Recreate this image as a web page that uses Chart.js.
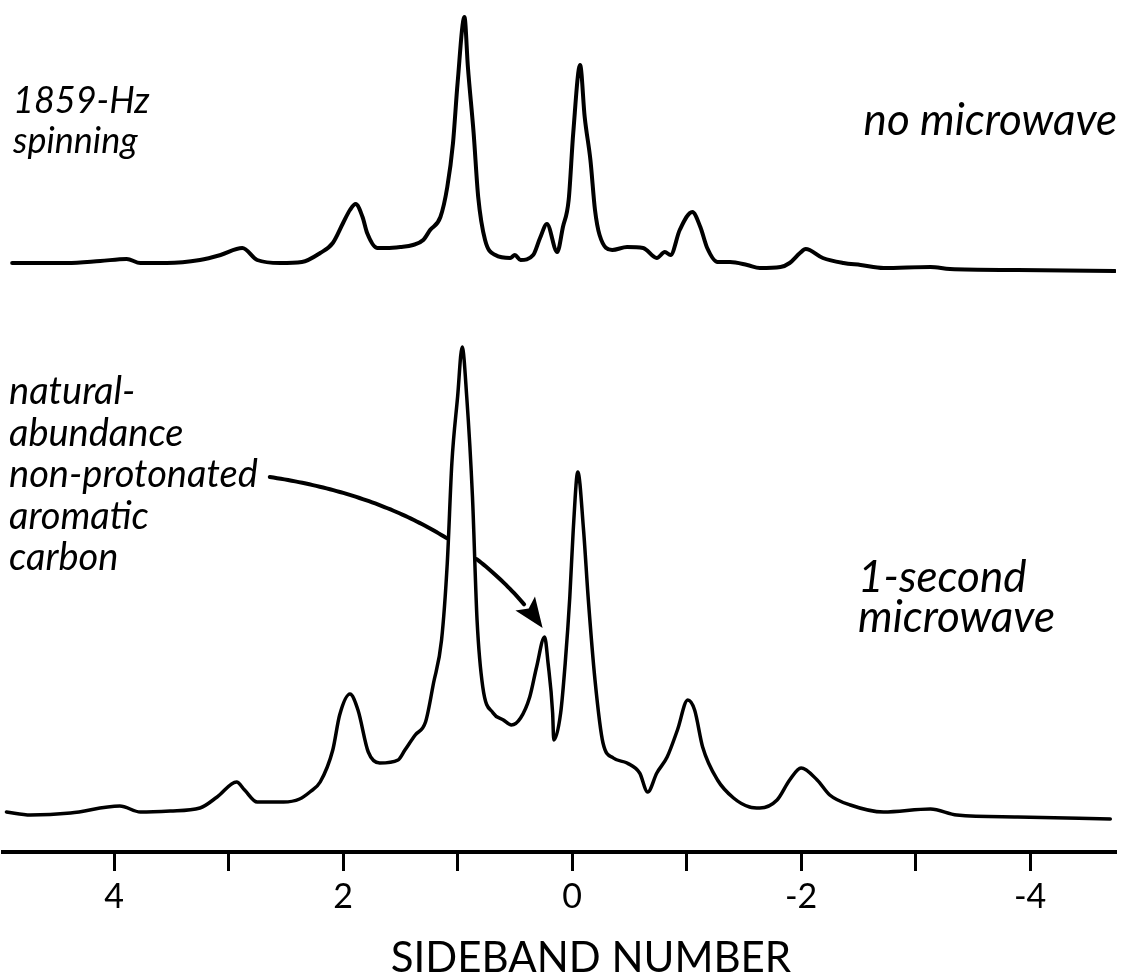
<!DOCTYPE html>
<html>
<head>
<meta charset="utf-8">
<script src="https://cdn.jsdelivr.net/npm/chart.js@4.4.1/dist/chart.umd.min.js"></script>
<style>
    html, body { margin: 0; padding: 0; background: #fff; }
    #wrap { width: 1123px; height: 979px; }
</style>
</head>
<body>
<div id="wrap"><canvas id="myChart" width="1123" height="979"></canvas></div>
<script>
// upper trace: 1859-Hz spinning, no microwave (sideband number, intensity a.u.)
const topX = [4.89, 4.41, 4.12, 3.89, 3.77, 3.54, 3.25, 3.07, 2.88, 2.75,
    2.55, 2.36, 2.20, 2.09, 2.00, 1.94, 1.89, 1.83, 1.79, 1.70,
    1.62, 1.50, 1.39, 1.30, 1.24, 1.15, 1.09, 1.04, 1.00, 0.94,
    0.91, 0.86, 0.82, 0.76, 0.67, 0.54, 0.50, 0.45, 0.34, 0.28,
    0.22, 0.13, 0.08, 0.03, -0.01, -0.07, -0.11, -0.16, -0.20, -0.24,
    -0.35, -0.48, -0.62, -0.74, -0.81, -0.86, -0.94, -1.05, -1.12, -1.18,
    -1.27, -1.38, -1.53, -1.64, -1.82, -1.90, -1.99, -2.04, -2.19, -2.37,
    -2.52, -2.72, -3.13, -3.30, -3.89, -4.74];
const topY = [9, 9, 11, 13, 9, 9, 12, 17, 24, 12,
    9, 10, 19, 29, 49, 62, 68, 55, 39, 24,
    24, 25, 27, 32, 42, 55, 85, 129, 189, 255,
    205, 139, 75, 32, 17, 14, 17, 12, 17, 34,
    48, 20, 45, 72, 139, 207, 155, 112, 62, 37,
    22, 25, 24, 14, 20, 17, 42, 60, 45, 24,
    10, 10, 7, 4, 5, 9, 19, 23, 14, 9,
    7, 4, 5, 3, 2, 1];

// lower trace: 1-second microwave
const bottomX = [4.94, 4.73, 4.38, 3.95, 3.77, 3.51, 3.25, 3.10, 2.93, 2.86,
    2.75, 2.52, 2.38, 2.29, 2.20, 2.09, 2.03, 1.94, 1.87, 1.78,
    1.68, 1.52, 1.46, 1.37, 1.28, 1.21, 1.14, 1.09, 1.05, 1.00,
    0.96, 0.92, 0.87, 0.83, 0.78, 0.69, 0.60, 0.53, 0.45, 0.37,
    0.31, 0.24, 0.21, 0.17, 0.16, 0.10, 0.06, 0.02, -0.01, -0.05,
    -0.10, -0.14, -0.20, -0.27, -0.36, -0.48, -0.59, -0.66, -0.74, -0.83,
    -0.92, -1.01, -1.07, -1.14, -1.27, -1.41, -1.55, -1.64, -1.79, -1.90,
    -2.00, -2.14, -2.25, -2.43, -2.72, -3.13, -3.36, -3.89, -4.70];
const bottomY = [8, 5, 7, 14, 8, 9, 12, 23, 38, 30,
    18, 18, 21, 28, 38, 70, 105, 126, 110, 68,
    57, 60, 70, 85, 98, 137, 180, 257, 357, 423,
    473, 423, 323, 200, 133, 107, 100, 95, 102, 123,
    153, 183, 157, 107, 80, 107, 157, 223, 290, 348,
    290, 223, 140, 77, 62, 57, 47, 28, 47, 63,
    90, 120, 110, 73, 40, 22, 13, 12, 20, 40,
    52, 40, 25, 15, 8, 11, 5, 3, 1];

// x axis ticks: every sideband gets a mark, only even ones a label
const tickValues = [4, 3, 2, 1, 0, -1, -2, -3, -4];
const tickLabels = ['4', '', '2', '', '0', '', '-2', '', '-4'];

// the band the arrow points at
const markedBand = 0.24;

const toPoints = (xs, ys) => xs.map((x, i) => ({ x: x, y: ys[i] }));

Chart.defaults.font.family = 'Lato';
Chart.defaults.font.size = 34;
Chart.defaults.color = '#000';

const annotations = {
    id: 'annotations',
    afterDraw(chart) {
        const ctx = chart.ctx;
        const xs = chart.scales.x;
        const yb = chart.scales.yBottom;
        ctx.save();
        ctx.fillStyle = '#000';
        ctx.strokeStyle = '#000';
        ctx.textBaseline = 'alphabetic';

        ctx.textAlign = 'left';
        ctx.font = 'italic 36px Lato';
        ctx.fillText('1859-Hz', 13, 113);
        ctx.fillText('spinning', 13, 153);

        ctx.font = 'italic 38px Lato';
        const note = ['natural-', 'abundance', 'non-protonated', 'aromatic', 'carbon'];
        note.forEach((t, i) => ctx.fillText(t, 9, 404 + i * 41.5));
        const noteEnd = 9 + ctx.measureText(note[2]).width;

        ctx.font = 'italic 44px Lato';
        ctx.fillText('1-second', 858, 592);
        ctx.fillText('microwave', 858, 632);

        ctx.textAlign = 'right';
        ctx.font = 'italic 44px Lato';
        ctx.fillText('no microwave', 1117, 135);

        // axis title
        ctx.textAlign = 'center';
        ctx.font = '42px Lato';
        ctx.fillText('SIDEBAND NUMBER', 591, 972);

        // curved arrow from the note to the marked band, broken where it passes the big peak
        const k = bottomX.indexOf(markedBand);
        const tip = { x: xs.getPixelForValue(bottomX[k]) - 2, y: yb.getPixelForValue(bottomY[k]) - 9 };
        const p0 = { x: noteEnd + 12, y: 477 };
        const c = { x: 455, y: 505 };
        const gapA = xs.getPixelForValue(1.08), gapB = xs.getPixelForValue(0.84);
        ctx.lineWidth = 4;
        ctx.lineCap = 'round';
        ctx.beginPath();
        let pen = false;
        for (let i = 0; i <= 100; i++) {
            const t = i / 100;
            const px = (1 - t) * (1 - t) * p0.x + 2 * t * (1 - t) * c.x + t * t * tip.x;
            const py = (1 - t) * (1 - t) * p0.y + 2 * t * (1 - t) * c.y + t * t * tip.y;
            if (px > gapA && px < gapB) { pen = false; continue; }
            if (t > 0.9) break;
            if (pen) ctx.lineTo(px, py); else ctx.moveTo(px, py);
            pen = true;
        }
        ctx.stroke();
        // head
        const dx = tip.x - c.x, dy = tip.y - c.y;
        const len = Math.hypot(dx, dy);
        const ux = dx / len, uy = dy / len;
        const hl = 30, hw = 12;
        ctx.beginPath();
        ctx.moveTo(tip.x, tip.y);
        ctx.lineTo(tip.x - ux * hl - uy * hw, tip.y - uy * hl + ux * hw);
        ctx.lineTo(tip.x - ux * hl * 0.8, tip.y - uy * hl * 0.8);
        ctx.lineTo(tip.x - ux * hl + uy * hw, tip.y - uy * hl - ux * hw);
        ctx.closePath();
        ctx.fill();
        ctx.restore();
    }
};

const ctx = document.getElementById('myChart').getContext('2d');

const myChart = new Chart(ctx, {
    type: 'line',
    data: {
        datasets: [{
            label: 'no microwave',
            data: toPoints(topX, topY),
            yAxisID: 'yTop',
            borderColor: '#000',
            borderWidth: 4
        }, {
            label: '1-second microwave',
            data: toPoints(bottomX, bottomY),
            yAxisID: 'yBottom',
            borderColor: '#000',
            borderWidth: 3.5
        }]
    },
    options: {
        responsive: false,
        animation: false,
        events: [],
        layout: { padding: { left: 3, right: 7, top: 0, bottom: 0 } },
        elements: {
            point: { radius: 0 },
            line: { cubicInterpolationMode: 'monotone', borderJoinStyle: 'round', borderCapStyle: 'round' }
        },
        plugins: {
            legend: { display: false },
            tooltip: { enabled: false }
        },
        scales: {
            x: {
                type: 'linear',
                reverse: true,
                min: -4.75,
                max: 4.97,
                afterFit: scale => { scale.height = 127; },
                afterBuildTicks: scale => { scale.ticks = tickValues.map(v => ({ value: v })); },
                ticks: {
                    autoSkip: false,
                    maxRotation: 0,
                    padding: 6,
                    color: '#000',
                    font: { family: 'Lato', size: 34, weight: 'normal' },
                    callback: value => tickLabels[tickValues.indexOf(value)] ?? ''
                },
                grid: {
                    drawOnChartArea: false,
                    drawTicks: true,
                    tickLength: 19,
                    tickWidth: 3,
                    tickColor: '#000'
                },
                border: { display: true, width: 4, color: '#000' }
            },
            // both traces share one intensity scale, each axis puts its baseline where the trace sits
            yTop: { type: 'linear', display: false, min: -580, max: 272 },
            yBottom: { type: 'linear', display: false, min: -32, max: 820 }
        }
    },
    plugins: [annotations]
});
</script>
</body>
</html>
